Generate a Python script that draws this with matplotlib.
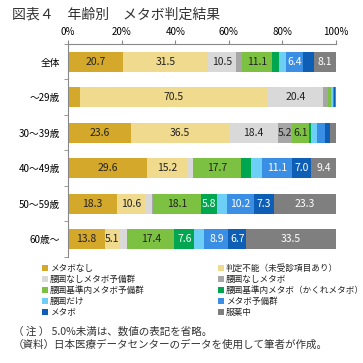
import matplotlib
matplotlib.use("Agg")
import matplotlib.pyplot as plt
from matplotlib.patches import Rectangle

plt.rcParams['font.family'] = ['Noto Sans CJK JP', 'DejaVu Sans']

categories = ["全体", "～29歳", "30～39歳", "40～49歳", "50～59歳", "60歳～"]
series_names = ["メタボなし", "判定不能（未受診項目あり）", "腰囲なしメタボ予備群", "腰囲なしメタボ",
                "腰囲基準内メタボ予備群", "腰囲基準内メタボ（かくれメタボ）", "腰囲だけ", "メタボ予備群",
                "メタボ", "服薬中"]
values = [
    [20.7, 4.3, 23.6, 29.6, 18.3, 13.8],   # メタボなし
    [31.5, 70.5, 36.5, 15.2, 10.6, 5.1],   # 判定不能
    [10.5, 20.4, 18.4, 1.8, 2.5, 3.2],     # 腰囲なしメタボ予備群
    [2.2, 2.0, 5.2, 0.2, 0.2, 0.1],        # 腰囲なしメタボ
    [11.1, 0.8, 6.1, 17.7, 18.1, 17.4],    # 腰囲基準内メタボ予備群
    [2.6, 0.3, 0.7, 3.6, 5.8, 7.6],        # かくれメタボ
    [2.7, 0.4, 2.5, 4.4, 3.7, 3.7],        # 腰囲だけ
    [6.4, 0.5, 3.0, 11.1, 10.2, 8.9],      # メタボ予備群
    [4.2, 0.3, 1.9, 7.0, 7.3, 6.7],        # メタボ
    [8.1, 0.5, 2.1, 9.4, 23.3, 33.5],      # 服薬中
]
colors = ["#D3A82B", "#F0DA8E", "#D9D9D9", "#A6A6A6", "#7DC142",
          "#00A650", "#6DCFF6", "#3A8FE4", "#0F5EB5", "#7F7F7F"]
text_colors = ["#222222", "#222222", "#222222", "#222222", "#222222",
               "white", "white", "white", "white", "white"]
xticks = [0, 20, 40, 60, 80, 100]
xticklabels = ["0%", "20%", "40%", "60%", "80%", "100%"]

fig = plt.figure(figsize=(3.63, 3.63), dpi=100)
W = H = 363.0
ax = fig.add_axes([68 / W, (H - 257) / H, 268 / W, 213 / H])

y = list(range(len(categories)))
left = [0.0] * len(categories)
for vals, c, tc in zip(values, colors, text_colors):
    ax.barh(y, vals, left=left, height=0.56, color=c, edgecolor='none')
    for i, v in enumerate(vals):
        if v >= 5.0:
            ax.text(left[i] + v / 2, y[i], f"{v:.1f}", ha='center', va='center',
                    fontsize=7.5, color=tc)
    left = [l + v for l, v in zip(left, vals)]

ax.set_xlim(0, 100)
ax.set_ylim(len(categories) - 0.5, -0.5)
ax.xaxis.tick_top()
ax.set_xticks(xticks)
ax.set_xticklabels(xticklabels, fontsize=7)
ax.tick_params(axis='x', direction='out', length=3, color='#888888', pad=2)
ax.set_yticks(y)
ax.set_yticklabels(categories, fontsize=7)
ax.tick_params(axis='y', length=0, pad=6)
ax.set_yticks([i + 0.5 for i in range(-1, len(categories))], minor=True)
ax.tick_params(axis='y', which='minor', length=3, color='#888888', direction='out')
for s in ['right', 'bottom']:
    ax.spines[s].set_visible(False)
for s in ['top', 'left']:
    ax.spines[s].set_color('#888888')
    ax.spines[s].set_linewidth(0.8)

fig.text(12 / W, 1 - 15 / H, "図表４　年齢別　メタボ判定結果", fontsize=10,
         va='center', ha='left', color='#333333')

# legend (row-major, 2 columns)
col_x = [42, 218]
row_y = [268, 279, 290, 301, 312]
for k, (name, c) in enumerate(zip(series_names, colors)):
    r, col = divmod(k, 2)
    x0 = col_x[col]
    y0 = row_y[r]
    fig.patches.append(Rectangle((x0 / W, 1 - (y0 + 3) / H), 6 / W, 6 / H,
                                 transform=fig.transFigure, facecolor=c, edgecolor='none'))
    fig.text((x0 + 8) / W, 1 - y0 / H, name, fontsize=6.2, va='center', ha='left', color='#222222')

fig.text(13 / W, 1 - 332 / H, "（ 注 ） 5.0%未満は、数値の表記を省略。", fontsize=7.6,
         va='center', ha='left', color='#333333')
fig.text(13 / W, 1 - 345 / H, "（資料）日本医療データセンターのデータを使用して筆者が作成。", fontsize=7.6,
         va='center', ha='left', color='#333333')

fig.savefig("out.png", dpi=100)
